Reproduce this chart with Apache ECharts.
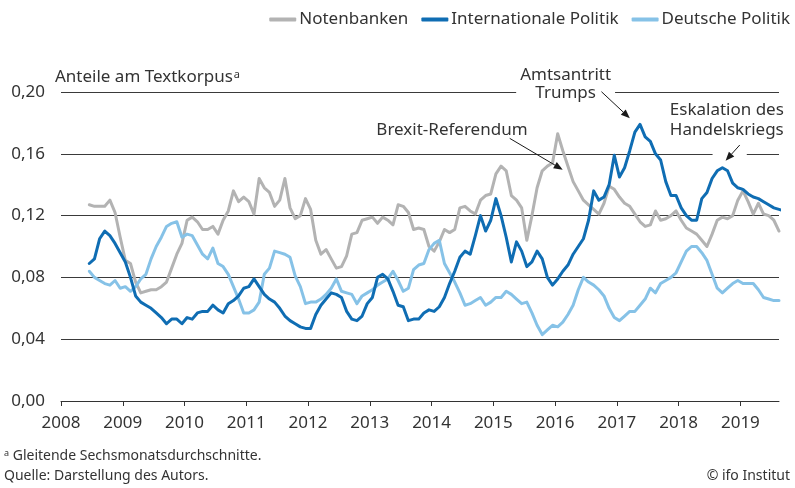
<!DOCTYPE html>
<html>
<head>
<meta charset="utf-8">
<script src="https://cdn.jsdelivr.net/npm/echarts@6/dist/echarts.min.js"></script>
<style>
  html, body { margin: 0; padding: 0; background: #fff; }
  #chart { width: 795px; height: 488px; }
</style>
</head>
<body>
<div id="chart"></div>
<script>
// Monthly series, June 2008 to August 2019 (six-month moving averages)
const startYear = 2008;
const startMonth = 6;

const notenbanken = [
  0.127, 0.126, 0.126, 0.126, 0.130, 0.122, 0.106,
  0.091, 0.089, 0.077, 0.070, 0.071, 0.072, 0.072, 0.074, 0.077, 0.086, 0.095, 0.102,
  0.117, 0.119, 0.116, 0.111, 0.111, 0.113, 0.108, 0.117, 0.123, 0.136, 0.129, 0.132,
  0.129, 0.121, 0.144, 0.138, 0.135, 0.126, 0.130, 0.144, 0.125, 0.118, 0.120, 0.131,
  0.124, 0.104, 0.095, 0.098, 0.092, 0.086, 0.087, 0.094, 0.108, 0.109, 0.117, 0.118,
  0.119, 0.115, 0.119, 0.117, 0.114, 0.127, 0.126, 0.122, 0.111, 0.112, 0.111, 0.100,
  0.097, 0.103, 0.111, 0.109, 0.111, 0.125, 0.126, 0.123, 0.121, 0.130, 0.133, 0.134,
  0.147, 0.152, 0.149, 0.133, 0.130, 0.125, 0.104, 0.120, 0.138, 0.149, 0.152, 0.154,
  0.173, 0.162, 0.152, 0.142, 0.136, 0.130, 0.127, 0.124, 0.121, 0.128, 0.139, 0.137,
  0.132, 0.128, 0.126, 0.121, 0.116, 0.113, 0.114, 0.123, 0.117, 0.118, 0.120, 0.123,
  0.117, 0.112, 0.110, 0.108, 0.104, 0.100, 0.108, 0.117, 0.119, 0.118, 0.120, 0.130,
  0.136, 0.129, 0.121, 0.128, 0.121, 0.120, 0.117, 0.110
];

const internationalePolitik = [
  0.089, 0.092, 0.105, 0.110, 0.107, 0.102, 0.096,
  0.090, 0.080, 0.068, 0.064, 0.062, 0.060, 0.057, 0.054, 0.050, 0.053, 0.053, 0.050,
  0.054, 0.053, 0.057, 0.058, 0.058, 0.062, 0.059, 0.057, 0.063, 0.065, 0.068, 0.073,
  0.074, 0.079, 0.074, 0.069, 0.066, 0.064, 0.060, 0.055, 0.052, 0.050, 0.048, 0.047,
  0.047, 0.056, 0.062, 0.066, 0.070, 0.069, 0.067, 0.058, 0.053, 0.052, 0.055, 0.063,
  0.067, 0.080, 0.082, 0.079, 0.071, 0.062, 0.061, 0.052, 0.053, 0.053, 0.057, 0.059,
  0.058, 0.061, 0.067, 0.076, 0.084, 0.093, 0.097, 0.095, 0.107, 0.120, 0.110, 0.117,
  0.131, 0.120, 0.106, 0.090, 0.103, 0.097, 0.087, 0.090, 0.097, 0.092, 0.080, 0.075,
  0.079, 0.084, 0.088, 0.095, 0.100, 0.105, 0.117, 0.136, 0.130, 0.132, 0.140, 0.159,
  0.145, 0.151, 0.162, 0.174, 0.179, 0.171, 0.168, 0.160, 0.156, 0.142, 0.133, 0.133,
  0.125, 0.120, 0.117, 0.117, 0.131, 0.135, 0.144, 0.149, 0.151, 0.149, 0.141, 0.138,
  0.137, 0.134, 0.132, 0.131, 0.129, 0.127, 0.125, 0.124, 0.123
];

const deutschePolitik = [
  0.084, 0.080, 0.078, 0.076, 0.075, 0.078, 0.073,
  0.074, 0.071, 0.074, 0.079, 0.082, 0.092, 0.100, 0.106, 0.113, 0.115, 0.116, 0.106,
  0.108, 0.107, 0.101, 0.095, 0.092, 0.099, 0.089, 0.087, 0.082, 0.074, 0.066, 0.057,
  0.057, 0.059, 0.064, 0.082, 0.086, 0.097, 0.096, 0.095, 0.093, 0.081, 0.074, 0.063,
  0.064, 0.064, 0.066, 0.069, 0.073, 0.079, 0.071, 0.070, 0.069, 0.063, 0.068, 0.070,
  0.072, 0.075, 0.077, 0.079, 0.084, 0.078, 0.071, 0.073, 0.085, 0.088, 0.089, 0.098,
  0.102, 0.104, 0.089, 0.083, 0.077, 0.070, 0.062, 0.063, 0.065, 0.067, 0.062, 0.064,
  0.067, 0.067, 0.071, 0.069, 0.066, 0.063, 0.064, 0.057, 0.049, 0.043, 0.046, 0.049,
  0.048, 0.051, 0.056, 0.062, 0.072, 0.080, 0.077, 0.075, 0.072, 0.068, 0.060, 0.054,
  0.052, 0.055, 0.058, 0.058, 0.062, 0.066, 0.073, 0.070, 0.076, 0.078, 0.080, 0.083,
  0.090, 0.097, 0.100, 0.100, 0.096, 0.091, 0.082, 0.073, 0.070, 0.073, 0.076, 0.078,
  0.076, 0.076, 0.076, 0.072, 0.067, 0.066, 0.065, 0.065
];

const yearTicks = [2008, 2009, 2010, 2011, 2012, 2013, 2014, 2015, 2016, 2017, 2018, 2019];
const seriesNames = ['Notenbanken', 'Internationale Politik', 'Deutsche Politik'];

// Event annotations, anchored in data coordinates (year, share)
const events = [
  { text: 'Brexit-Referendum', label: [2014.33, 0.1754],
    from: [2015.265, 0.170], to: [2016.123, 0.1497] },
  { text: 'Amtsantritt\nTrumps', label: [2016.17, 0.2052],
    from: [2016.75, 0.2002], to: [2017.21, 0.1830], knockout: true },
  { text: 'Eskalation des\nHandelskriegs', label: [2018.78, 0.1815],
    from: [2018.99, 0.1657], to: [2018.76, 0.1555], gap: true }
];

const FONT = 'Noto Sans';
const INK = '#333333';
const colors = ['#b3b3b3', '#0f6db3', '#86c2e7'];

function monthPos(i) {
  return startYear + (startMonth - 1 + i + 0.5) / 12;
}
function toPairs(values) {
  return values.map((v, i) => [monthPos(i), v]);
}
function fmtComma(v) {
  return v.toFixed(2).replace('.', ',');
}

const chart = echarts.init(document.getElementById('chart'), null, { renderer: 'canvas' });

const lineSeries = (name, values, color, z) => ({
  name: name,
  type: 'line',
  data: toPairs(values),
  showSymbol: false,
  symbol: 'none',
  z: z,
  lineStyle: { color: color, width: 3, cap: 'round', join: 'round' },
  itemStyle: { color: color },
  emphasis: { disabled: true }
});

const option = {
  animation: false,
  backgroundColor: '#ffffff',
  textStyle: { fontFamily: FONT },
  grid: { left: 61, right: 16, top: 92, bottom: 87, containLabel: false, outerBoundsMode: 'none' },
  legend: {
    data: seriesNames,
    top: 6,
    right: 0,
    icon: 'roundRect',
    itemWidth: 27,
    itemHeight: 4,
    itemGap: 13,
    textStyle: { fontFamily: FONT, fontSize: 17, color: INK, padding: [0, 0, 0, -2] }
  },
  xAxis: {
    type: 'value',
    min: 2008,
    max: 2019.625,
    interval: 1,
    axisLine: { show: true, lineStyle: { color: '#333', width: 1 } },
    axisTick: { show: true, length: 5, customValues: yearTicks, lineStyle: { color: '#333' } },
    axisLabel: {
      customValues: yearTicks,
      formatter: (v) => String(Math.round(v)),
      margin: 14,
      fontFamily: FONT,
      fontSize: 17,
      color: INK
    },
    splitLine: { show: false }
  },
  yAxis: {
    type: 'value',
    min: 0,
    max: 0.2,
    interval: 0.04,
    name: '{t|Anteile am Textkorpus}{s|a}',
    nameLocation: 'end',
    nameGap: 6,
    nameTextStyle: {
      align: 'left',
      verticalAlign: 'bottom',
      padding: [0, 0, 0, -6],
      rich: {
        t: { fontFamily: FONT, fontSize: 17, color: INK },
        s: { fontFamily: FONT, fontSize: 11, color: INK, verticalAlign: 'top', padding: [0, 0, 6, 1] }
      }
    },
    axisLine: { show: false },
    axisTick: { show: false },
    axisLabel: {
      formatter: fmtComma,
      margin: 16,
      fontFamily: FONT,
      fontSize: 17,
      color: INK
    },
    splitLine: { show: true, lineStyle: { color: '#3a3a3a', width: 1 } }
  },
  series: [
    lineSeries(seriesNames[0], notenbanken, colors[0], 2),
    lineSeries(seriesNames[1], internationalePolitik, colors[1], 4),
    lineSeries(seriesNames[2], deutschePolitik, colors[2], 3)
  ]
};

chart.setOption(option);

// Arrow: straight stroke plus a filled triangular head at the target point
function arrow(p0, p1) {
  const dx = p1[0] - p0[0], dy = p1[1] - p0[1];
  const len = Math.hypot(dx, dy);
  const ux = dx / len, uy = dy / len;
  const headLen = 9, headHalf = 3.6;
  const bx = p1[0] - ux * headLen, by = p1[1] - uy * headLen;
  return [
    { type: 'line', z: 20, silent: true,
      shape: { x1: p0[0], y1: p0[1], x2: bx, y2: by },
      style: { stroke: '#1a1a1a', lineWidth: 1 } },
    { type: 'polygon', z: 20, silent: true,
      shape: { points: [[p1[0], p1[1]], [bx - uy * headHalf, by + ux * headHalf], [bx + uy * headHalf, by - ux * headHalf]] },
      style: { fill: '#1a1a1a' } }
  ];
}

function buildGraphics() {
  const px = (c) => chart.convertToPixel({ gridIndex: 0 }, c);
  const els = [];
  events.forEach((ev) => {
    const a = px(ev.from), b = px(ev.to), l = px(ev.label);
    if (ev.gap) {
      const x0 = Math.min(a[0], b[0]) - 13, x1 = Math.max(a[0], b[0]) + 7;
      els.push({ type: 'rect', z: 1, silent: true,
        shape: { x: x0, y: Math.min(a[1], b[1]), width: x1 - x0, height: Math.abs(b[1] - a[1]) },
        style: { fill: '#ffffff' } });
    }
    els.push({ type: 'text', z: 15, silent: true,
      style: {
        text: ev.text, x: l[0], y: l[1],
        align: 'center', verticalAlign: 'middle',
        font: '17px "' + FONT + '"', lineHeight: ev.knockout ? 18 : 20, fill: INK,
        backgroundColor: ev.knockout ? '#ffffff' : null,
        padding: ev.knockout ? [0, 4, 0, 4] : 0
      } });
    els.push.apply(els, arrow(a, b));
  });

  // Footnotes
  const noteFont = FONT;
  els.push({ type: 'text', left: 4, top: 449, silent: true,
    style: {
      text: '{s|a}{t| Gleitende Sechsmonatsdurchschnitte.}',
      rich: {
        s: { fontFamily: noteFont, fontSize: 9, fill: INK, verticalAlign: 'top' },
        t: { fontFamily: noteFont, fontSize: 14, fill: INK }
      }
    } });
  els.push({ type: 'text', left: 4, top: 469, silent: true,
    style: { text: 'Quelle: Darstellung des Autors.', font: '14px "' + noteFont + '"', fill: INK } });
  els.push({ type: 'text', right: 5, top: 469, silent: true,
    style: { text: '© ifo Institut', font: '14px "' + noteFont + '"', fill: INK } });
  return els;
}

chart.setOption({ graphic: buildGraphics() });
</script>
</body>
</html>
